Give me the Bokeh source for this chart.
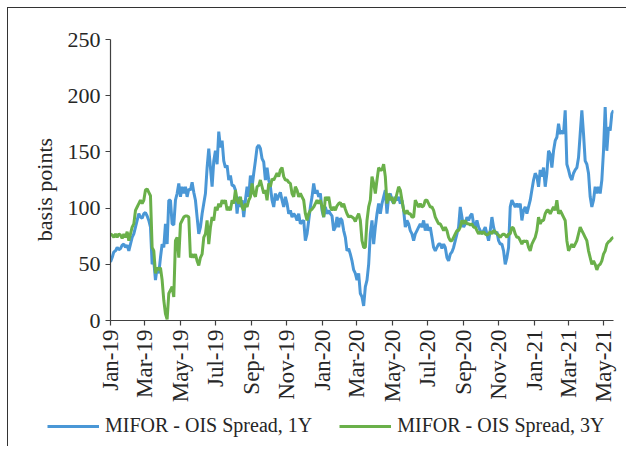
import math
import pandas as pd
from bokeh.plotting import figure
from bokeh.layouts import column, row
from bokeh.models import (Range1d, FixedTicker, DatetimeTickFormatter, Legend,
                          LegendItem, Label, ColumnDataSource)
from bokeh.embed import file_html
from bokeh.resources import INLINE

# ---------------- data ----------------
first_date = "2019-01-01"
last_date = "2021-05-18"
tick_months = ["2019-01-01", "2019-03-01", "2019-05-01", "2019-07-01", "2019-09-01",
               "2019-11-01", "2020-01-01", "2020-03-01", "2020-05-01", "2020-07-01",
               "2020-09-01", "2020-11-01", "2021-01-01", "2021-03-01", "2021-05-01"]
y_ticks = [0, 50, 100, 150, 200, 250]

# MIFOR - OIS spread, 1Y (basis points), consecutive observations
spread_1y_a = [52, 56, 61, 62, 65, 63, 64, 67, 68, 65,
               67, 62, 68, 74, 77, 83, 89, 95, 92, 91,
               95, 96, 93, 89, 83, 50, 53, 36, 47, 42,
               56, 68, 65, 86, 68, 107, 107, 86, 85, 107,
               113, 122, 110, 119, 113, 119, 110, 117, 116, 123,
               114, 107, 92, 77, 83, 95, 104, 113, 136, 153,
               136, 119, 142, 151, 139, 168, 154, 160, 142, 136,
               138, 125, 129, 120, 120, 116, 95, 110, 101, 107,
               92, 107, 119, 110, 129, 119, 131, 142, 154, 156,
               153, 144, 141, 125, 136, 125, 119, 107, 101, 113,
               107, 111, 114, 107, 101, 110, 104, 95, 98, 92,
               95, 93, 89, 95]
spread_1y_b = [86, 88, 89, 71, 77, 89, 101, 110, 122, 113,
               116, 110, 113, 98, 92, 101, 95, 98, 95, 93,
               80, 83, 92, 83, 91, 89, 80, 74, 62, 64,
               59, 53, 45, 42, 36, 42, 24, 21, 13, 30,
               36, 50, 77, 89, 68, 83, 95, 104, 95, 104,
               110, 116, 95, 110, 113, 107, 104, 110, 107, 110,
               104, 107, 98, 83, 89, 86, 80, 77, 71, 77,
               80, 83, 86, 83, 89, 80, 86, 80, 83, 74,
               65, 62, 65, 68, 68, 64, 68, 65, 56, 53,
               59, 61, 65, 71, 77, 83, 101, 92, 83, 86,
               92, 89, 93, 95, 86, 83, 89, 83, 80, 77,
               80, 83, 77, 71, 80, 92, 83, 77, 79, 71,
               68, 68, 62, 50, 56, 65, 101, 107, 104, 101,
               104, 101, 104, 89, 98, 101, 95, 101, 107, 116,
               125, 131, 128, 119, 134, 128, 136, 119, 131, 151,
               148, 136, 151, 160, 163, 175, 166, 169, 166, 187,
               139, 134, 128, 125, 131, 134, 136, 145, 166, 187,
               166, 142, 139, 131, 110, 101, 107, 119, 113, 119,
               113, 125, 151, 190, 151, 172, 169, 184, 187]

# MIFOR - OIS spread, 3Y (basis points), consecutive observations
spread_3y_a = [77, 76, 74, 77, 74, 77, 76, 73, 77, 74,
               79, 71, 77, 83, 86, 98, 101, 104, 107, 104,
               107, 116, 117, 114, 111, 65, 62, 42, 47, 45,
               47, 36, 18, 6, 1, 24, 27, 30, 21, 71,
               74, 56, 86, 89, 92, 93, 93, 92, 56, 59,
               56, 59, 53, 49, 56, 59, 74, 77, 89, 68,
               83, 92, 89, 101, 98, 104, 101, 107, 104, 107,
               98, 101, 98, 107, 104, 116, 107, 104, 110, 101,
               98, 104, 101, 107, 110, 122, 113, 110, 119, 120,
               125, 119, 113, 116, 107, 122, 119, 126, 125, 128,
               131, 128, 134, 136, 128, 125, 125, 123, 122, 113,
               110, 119, 116, 110]
spread_3y_b = [113, 110, 107, 95, 89, 95, 98, 99, 101, 104,
               107, 104, 107, 101, 92, 110, 107, 110, 101, 98,
               101, 98, 102, 104, 105, 101, 104, 99, 95, 92,
               93, 92, 91, 88, 92, 95, 89, 71, 65, 65,
               89, 101, 107, 128, 122, 113, 125, 136, 134, 134,
               139, 128, 104, 113, 107, 110, 104, 107, 113, 119,
               116, 107, 98, 95, 98, 95, 95, 92, 92, 107,
               104, 101, 104, 101, 102, 107, 107, 104, 101, 101,
               98, 92, 89, 86, 86, 83, 80, 83, 80, 74,
               71, 71, 74, 77, 80, 80, 83, 89, 86, 89,
               86, 86, 85, 86, 83, 83, 80, 77, 79, 77,
               79, 77, 76, 77, 79, 77, 80, 79, 77, 76,
               74, 76, 77, 76, 74, 77, 77, 83, 82, 77,
               74, 74, 71, 68, 71, 70, 71, 65, 62, 68,
               71, 74, 80, 92, 86, 89, 89, 95, 98, 98,
               95, 98, 101, 98, 107, 95, 98, 95, 92, 89,
               71, 62, 65, 68, 65, 68, 71, 77, 83, 80,
               77, 74, 71, 62, 56, 50, 53, 50, 45, 49,
               50, 53, 59, 62, 68, 70, 71, 73, 74]

series_names = ["MIFOR - OIS Spread, 1Y", "MIFOR - OIS Spread, 3Y"]
y_title = "basis points"

# ---------------- build ----------------
spread_1y = spread_1y_a + spread_1y_b
spread_3y = spread_3y_a + spread_3y_b
dates = pd.date_range(first_date, last_date, periods=len(spread_1y))
src = ColumnDataSource(dict(date=dates, y1=spread_1y, y3=spread_3y))

BLUE = "#4a97d6"
GREEN = "#6ab04a"
INK = "#262626"
FONT = "Liberation Serif"
LW = 3


def bare(fig):
    fig.grid.visible = False
    fig.outline_line_color = None
    fig.background_fill_color = "white"
    fig.border_fill_color = "white"


# main chart
p = figure(width=562, height=400, x_axis_type="datetime",
           output_backend="svg", toolbar_location=None,
           x_range=Range1d(pd.Timestamp(first_date), pd.Timestamp(last_date)),
           y_range=Range1d(0, 250),
           min_border_left=46, min_border_right=13,
           min_border_top=31, min_border_bottom=88)
bare(p)

r1 = p.line(x="date", y="y1", source=src, line_color=BLUE, line_width=LW)
r3 = p.line(x="date", y="y3", source=src, line_color=GREEN, line_width=LW)

tick_ms = [pd.Timestamp(m).value / 1e6 for m in tick_months]
p.xaxis.ticker = FixedTicker(ticks=tick_ms)
fmt = "%b-%y"
p.xaxis.formatter = DatetimeTickFormatter(days=fmt, months=fmt, years=fmt,
                                          hours=fmt, hourmin=fmt, minutes=fmt)
p.xaxis.major_label_orientation = math.pi / 2
p.yaxis.ticker = FixedTicker(ticks=y_ticks)

for ax in (p.xaxis, p.yaxis):
    ax.axis_line_color = "#404040"
    ax.axis_line_width = 1.2
    ax.major_tick_line_color = "#404040"
    ax.major_tick_line_width = 1.2
    ax.major_tick_in = 0
    ax.major_tick_out = 5
    ax.minor_tick_line_color = None
    ax.major_label_text_font = FONT
    ax.major_label_text_color = INK

p.xaxis.major_label_text_font_size = "23px"
p.xaxis.major_label_standoff = 4
p.yaxis.major_label_text_font_size = "22px"
p.yaxis.major_label_standoff = 5

# y-axis title strip on the left
lab = figure(width=56, height=400, output_backend="svg", toolbar_location=None,
             x_range=Range1d(0, 1), y_range=Range1d(0, 1),
             x_axis_location=None, y_axis_location=None,
             min_border=0)
bare(lab)
lab.add_layout(Label(x=36, y=131, x_units="screen", y_units="screen", text=y_title,
                     angle=math.pi / 2, text_align="center", text_baseline="middle",
                     text_font=FONT, text_font_size="22px", text_color=INK))

# legend strip at the bottom (legend keys placed outside the visible range)
leg = figure(width=618, height=38, output_backend="svg", toolbar_location=None,
             x_range=Range1d(0, 1), y_range=Range1d(0, 1),
             x_axis_location=None, y_axis_location=None,
             min_border=0)
bare(leg)
k1 = leg.line(x=[5, 6], y=[5, 6], line_color=BLUE, line_width=LW)
k3 = leg.line(x=[5, 6], y=[5, 6], line_color=GREEN, line_width=LW)
legend = Legend(items=[LegendItem(label=series_names[0], renderers=[k1]),
                       LegendItem(label=series_names[1], renderers=[k3])],
                location=(39, 9), orientation="horizontal",
                padding=0, margin=0, spacing=27, label_standoff=6,
                glyph_width=52, glyph_height=20, label_height=20,
                label_text_font=FONT, label_text_font_size="20px",
                label_text_color=INK, border_line_color=None,
                background_fill_alpha=0)
leg.add_layout(legend, "center")

layout = column(row(lab, p), leg)
layout.styles = {"margin-left": "7px", "margin-top": "7px",
                 "border-left": "1px solid #333333", "border-top": "1px solid #333333"}

open("out.html", "w").write(file_html(layout, INLINE))
